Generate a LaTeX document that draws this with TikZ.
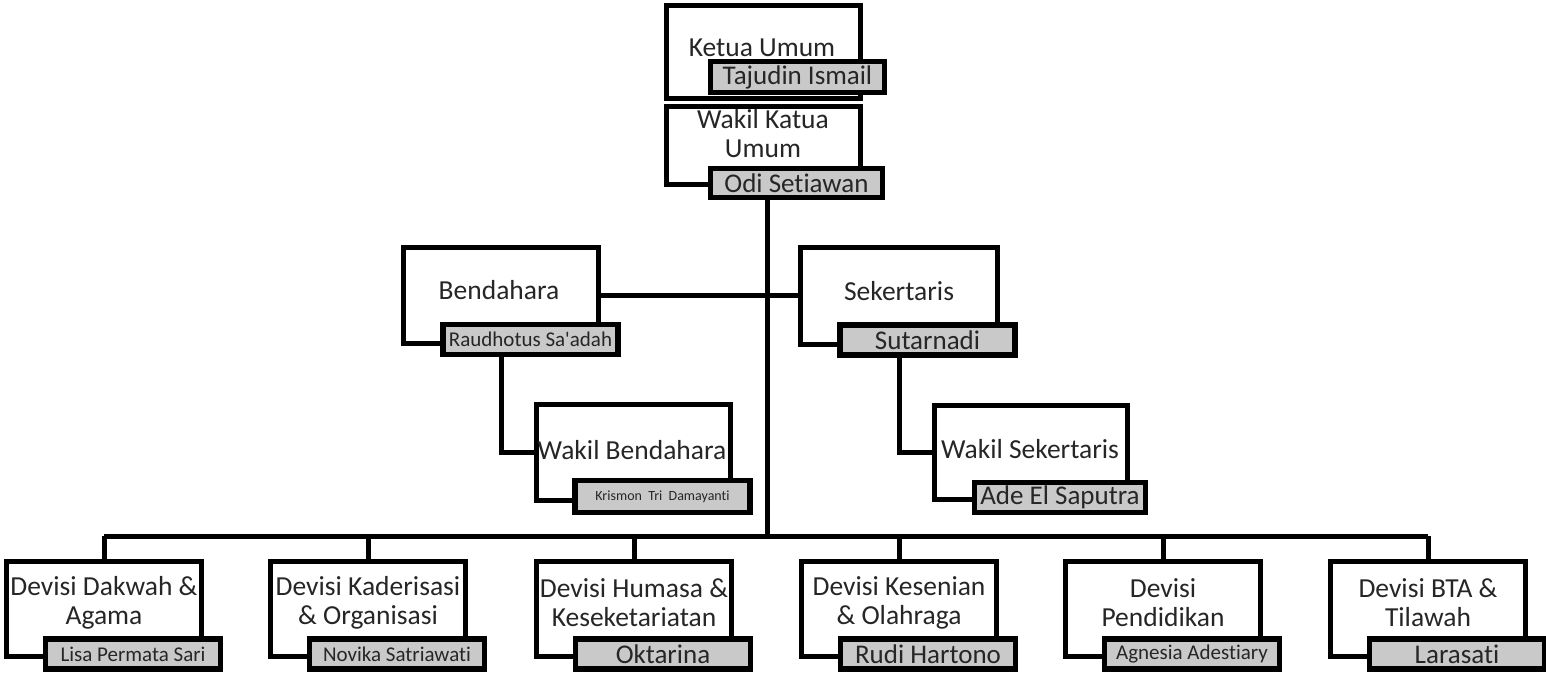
\documentclass[tikz,border=0pt]{standalone}
\usepackage{fontspec}
\setmainfont{Carlito}[Ligatures={NoCommon}]
\usetikzlibrary{calc}

\begin{document}
\begin{tikzpicture}[x=1pt,y=-1pt,
	posbox/.style={draw, line width=5.5pt, fill=white, minimum width=195pt, minimum height=95pt, inner sep=0pt},
	namebox/.style={draw, line width=5.5pt, fill=black!21, text=black!85, minimum width=175pt, minimum height=30pt, inner sep=0pt, font=\fontsize{27}{29}\selectfont},
	roletext/.style={align=center, text=black!85, inner sep=0pt, font=\fontsize{27.5}{29}\selectfont},
	link/.style={line width=5pt}]

	\useasboundingbox (0,0) rectangle (1546,672);

	% Ketua and wakil
	\begin{scope}
		\node[posbox, minimum width=194pt, minimum height=93pt] (ketua) at (763.5,52) {};
		\node[roletext] (ketuarole) at (762,48) {Ketua Umum};
		\node[namebox, minimum width=174pt, minimum height=31pt] (ketuaname) at (797.5,77) {Tajudin Ismail};

		\node[posbox, minimum width=194pt, minimum height=78pt] (wakil) at (763.5,145.5) {};
		\node[roletext] (wakilrole) at (763,134) {Wakil Katua\\Umum};
		\node[namebox, minimum width=172pt, minimum height=29pt] (wakilname) at (796.5,183) {Odi Setiawan};
	\end{scope}

	% Bendahara and sekertaris
	\begin{scope}
		\node[posbox, minimum height=96pt] (bend) at (501,295.5) {};
		\node[roletext] (bendrole) at (499,290) {Bendahara};
		\node[namebox, font=\fontsize{21}{23}\selectfont] (bendname) at ([shift={(29.5,44)}]bend.center) {Raudhotus Sa\textquotesingle adah};

		\node[posbox, minimum width=197pt, minimum height=97pt] (sek) at (899,296) {};
		\node[roletext] (sekrole) at (899,291) {Sekertaris};
		\node[namebox] (sekname) at ([shift={(28.5,44)}]sek.center) {Sutarnadi};

		\node[posbox, minimum width=194pt, minimum height=96pt] (wbend) at (633.5,452.5) {};
		\node[roletext] (wbendrole) at (632,450) {Wakil Bendahara};
		\node[namebox, minimum height=32pt, font=\fontsize{14}{16}\selectfont] (wbendname) at ([shift={(29,44)}]wbend.center) {Krismon~ Tri~ Damayanti};

		\node[posbox, minimum width=193pt, minimum height=94pt] (wsek) at (1031,452.5) {};
		\node[roletext] (wsekrole) at (1030,449) {Wakil Sekertaris};
		\node[namebox, minimum width=171pt] (wsekname) at ([shift={(29,45)}]wsek.center) {Ade El Saputra};
	\end{scope}

	% Lines between the boxes
	\coordinate (bus) at (767,536);
	\draw[link] (bus |- wakilname.south) -- (bus);
	\draw[link] (bend.east) -- (bend.east -| sek.west);
	\draw[link] (bend.center |- bendname.south) |- (wbend.west);
	\draw[link] (sek.center |- sekname.south) |- (wsek.west);

	% Devisi row
	\foreach \id/\cx/\role/\who/\fs in {
		dakwah/104/{Devisi Dakwah \&\\Agama}/{Lisa Permata Sari}/21,
		kader/368/{Devisi Kaderisasi\\\& Organisasi}/{Novika Satriawati}/21,
		humas/634/{Devisi Humasa \&\\Keseketariatan}/{Oktarina}/27,
		seni/899/{Devisi Kesenian\\\& Olahraga}/{Rudi Hartono}/27,
		didik/1163/{Devisi\\Pendidikan}/{Agnesia Adestiary}/21,
		bta/1428/{Devisi BTA \&\\Tilawah}/{Larasati}/27}
	{
		\node[posbox] (\id) at (\cx,609) {};
		\node[roletext] (\id-role) at (\cx,603) {\role};
		\node[namebox, font=\fontsize{\fs}{\fs}\selectfont] (\id-name) at ([shift={(29,45)}]\id.center) {\who};
		\draw[link] (\id.north) -- (\id.north |- bus);
	}
	\draw[link] (dakwah.north |- bus) -- (bta.north |- bus);
\end{tikzpicture}
\end{document}
